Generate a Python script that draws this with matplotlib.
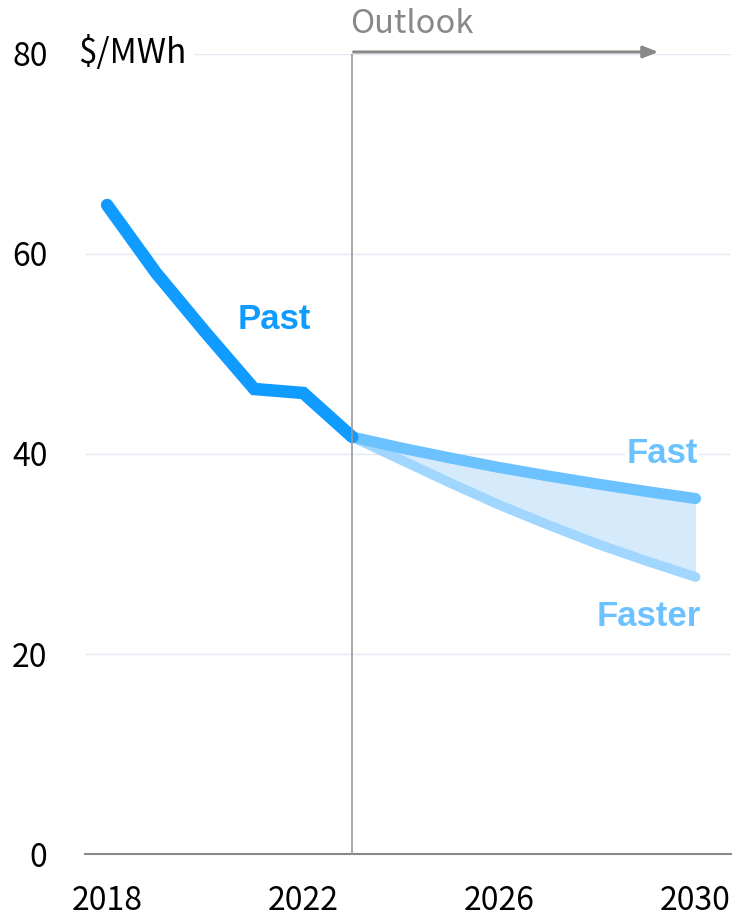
import matplotlib
matplotlib.use("Agg")
import matplotlib.pyplot as plt

# data
past_years = [2018, 2019, 2020, 2021, 2022, 2023]
past_values = [64.9, 58.1, 52.2, 46.5, 46.1, 41.7]

outlook_years = [2023, 2024, 2025, 2026, 2027, 2028, 2029, 2030]
fast_values = [41.7, 40.6, 39.6, 38.65, 37.8, 37.0, 36.25, 35.55]
faster_values = [41.7, 39.4, 37.1, 34.9, 32.9, 31.0, 29.3, 27.7]

x_ticks = [2018, 2022, 2026, 2030]
y_ticks = [0, 20, 40, 60, 80]

tick_font = ["Noto Sans CJK SC", "DejaVu Sans"]
label_font = ["Liberation Sans", "DejaVu Sans"]

c_past = "#0f9bff"
c_fast = "#6cc1ff"
c_faster = "#a1d6ff"
c_fill = "#d5ebfc"

fig = plt.figure(figsize=(7.42, 9.18), dpi=100)
ax = fig.add_axes([0.1146, 0.0697, 0.8704, 0.8715])

ax.set_xlim(2017.55, 2030.72)
ax.set_ylim(0, 80)

for y in y_ticks[1:]:
    ax.axhline(y, color="#e3e9f2", lw=1, zorder=0)

ax.fill_between(outlook_years, fast_values, faster_values, color=c_fill, lw=0, zorder=1)
ax.plot(outlook_years, faster_values, color=c_faster, lw=7, solid_capstyle="round", zorder=2)
ax.plot(outlook_years, fast_values, color=c_fast, lw=8, solid_capstyle="round", zorder=3)
ax.plot(past_years, past_values, color=c_past, lw=9, solid_capstyle="round",
        solid_joinstyle="miter", zorder=4)

# outlook marker
ax.axvline(2023, ymin=0, ymax=1, color="#999999", lw=1.2, zorder=5)
ax.annotate("", xy=(2029.3, 80.2), xytext=(2022.97, 80.2),
            arrowprops=dict(arrowstyle="-|>,head_length=0.9,head_width=0.35",
                            color="#888888", lw=2.2), annotation_clip=False)
ax.text(2022.95, 83.0, "Outlook", color="#888888", fontsize=23.5, family=tick_font,
        ha="left", va="center", clip_on=False)

ax.text(2021.4, 53.4, "Past", color=c_past, fontsize=25, fontweight="bold",
        family=label_font, ha="center", va="center")
ax.text(2030.05, 40.0, "Fast", color=c_fast, fontsize=25, fontweight="bold",
        family=label_font, ha="right", va="center",
        bbox=dict(facecolor="white", edgecolor="none", pad=1))
ax.text(2030.1, 23.8, "Faster", color=c_fast, fontsize=25, fontweight="bold",
        family=label_font, ha="right", va="center")

ax.text(2017.4, 80, "$/MWh", fontsize=24, family=tick_font, ha="left", va="center",
        bbox=dict(facecolor="white", edgecolor="none", pad=6), zorder=6)

ax.set_xticks(x_ticks)
ax.set_yticks(y_ticks)
ax.set_xticklabels([str(v) for v in x_ticks], family=tick_font, fontsize=23)
ax.set_yticklabels([str(v) for v in y_ticks], family=tick_font, fontsize=23)
ax.tick_params(axis="both", length=0)
ax.tick_params(axis="x", pad=22)
ax.tick_params(axis="y", pad=27)

for side in ["top", "right", "left"]:
    ax.spines[side].set_visible(False)
ax.spines["bottom"].set_color("#888888")
ax.spines["bottom"].set_linewidth(1.5)

fig.savefig("out.png", dpi=100)
